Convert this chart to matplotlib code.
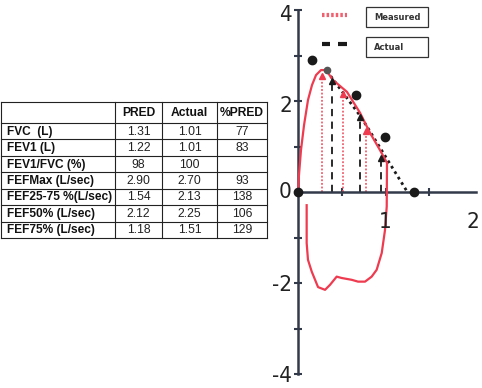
import numpy as np
import matplotlib
matplotlib.use("Agg")
import matplotlib.pyplot as plt

# ── Dados ─────────────────────────────────────────────────────────────────────
linhas = ["FVC  (L)", "FEV1 (L)", "FEV1/FVC (%)", "FEFMax (L/sec)",
          "FEF25-75 %(L/sec)", "FEF50% (L/sec)", "FEF75% (L/sec)"]
cabec = ["PRED", "Actual", "%PRED"]
pred = ["1.31", "1.22", "98", "2.90", "1.54", "2.12", "1.18"]
atual = ["1.01", "1.01", "100", "2.70", "2.13", "2.25", "1.51"]
pct = ["77", "83", "", "93", "138", "106", "129"]

# curva fluxo-volume medida (expiração -> inspiração)
alca_x = [0.0, 0.011, 0.034, 0.069, 0.114, 0.16, 0.206, 0.263, 0.32, 0.40, 0.56,
          0.709, 0.823, 0.937, 1.017, 1.014, 0.994, 0.957, 0.899, 0.842, 0.766,
          0.686, 0.614, 0.499, 0.442, 0.366, 0.309, 0.229, 0.157, 0.114, 0.099, 0.099]
alca_y = [0.0, 0.37, 0.92, 1.47, 2.02, 2.35, 2.57, 2.68, 2.68, 2.46, 2.20,
          1.74, 1.30, 0.92, 0.64, -0.32, -0.84, -1.34, -1.71, -1.86, -1.97,
          -1.97, -1.93, -1.89, -1.86, -2.04, -2.15, -2.09, -1.75, -1.49, -1.12, -0.29]

# pontos medidos (triângulos vermelhos) e reais (triângulos pretos)
med_x = [0.272, 0.514, 0.778]
med_y = [2.56, 2.15, 1.35]
real_x = [0.394, 0.713, 0.954]
real_y = [2.44, 1.65, 0.75]

# valores previstos (círculos pretos)
prev_x = [0.0, 0.165, 0.667, 0.997, 1.326]
prev_y = [0.0, 2.90, 2.13, 1.21, 0.0]
pico = (0.33, 2.68)

# linha pontilhada prevista
prevl_x = [0.33, 0.72, 1.25]
prevl_y = [2.66, 1.65, 0.0]

ytick_lab = [4, 2, 0, -2, -4]
xtick_lab = [1, 2]

VERM, VERM2, PRETO, EIXO = "#ef3b4f", "#f0606e", "#1a1a1a", "#333a4a"

# ── Figura ────────────────────────────────────────────────────────────────────
fig = plt.figure(figsize=(4.82, 3.88), dpi=100)

# tabela (coordenadas em pixels)
tab = fig.add_axes([0, 0, 1, 1])
tab.set_xlim(0, 482); tab.set_ylim(388, 0); tab.axis("off")
cols = [1, 115, 162, 217, 267]
topo, cab_fim, fundo = 102, 123, 238
alt = (fundo - cab_fim) / len(linhas)
ys = [topo, cab_fim] + [cab_fim + alt * (i + 1) for i in range(len(linhas))]
for y in ys:
    tab.plot([cols[0], cols[-1]], [y, y], color="#222", lw=0.8)
for x in cols:
    tab.plot([x, x], [topo, fundo], color="#222", lw=0.8)
fam = ["Liberation Sans", "DejaVu Sans"]
for j, h in enumerate(cabec):
    tab.text((cols[j + 1] + cols[j + 2]) / 2, (topo + cab_fim) / 2 + 0.5, h,
             ha="center", va="center", fontsize=8.7, fontweight="bold", family=fam, color="#111")
for i, nome in enumerate(linhas):
    yc = cab_fim + alt * (i + 0.5) + 0.5
    tab.text(7, yc, nome, ha="left", va="center", fontsize=8.6,
             fontweight="bold", family=fam, color="#111")
    for j, v in enumerate([pred[i], atual[i], pct[i]]):
        tab.text((cols[j + 1] + cols[j + 2]) / 2, yc, v, ha="center", va="center",
                 fontsize=8.7, family=fam, color="#222")

# legenda desenhada
tab.plot([322, 347], [15, 15], color=VERM2, lw=3, ls=(0, (0.6, 0.5)))
tab.plot([322, 330], [44, 44], color=PRETO, lw=3, solid_capstyle="butt")
tab.plot([338, 347], [44, 44], color=PRETO, lw=3, solid_capstyle="butt")
for y0, y1, t in [(7, 27, "Measured"), (37, 57, "Actual")]:
    tab.add_patch(plt.Rectangle((366, y0), 62, y1 - y0, fill=False, ec="#333", lw=0.9))
    tab.text(374, (y0 + y1) / 2, t, ha="left", va="center", fontsize=6,
             fontweight="bold", family=["DejaVu Sans"], color="#333")

# gráfico fluxo-volume
ax = fig.add_axes([298 / 482, 14 / 388, 178 / 482, 364 / 388])
ax.set_xlim(0, 178 / 87.5); ax.set_ylim(-4, 4)
ax.patch.set_alpha(0)
for s in ["top", "right"]:
    ax.spines[s].set_visible(False)
ax.spines["bottom"].set_position(("data", 0))
for s in ["left", "bottom"]:
    ax.spines[s].set_color(EIXO); ax.spines[s].set_linewidth(1.8)
ax.set_yticks(range(-4, 5)); ax.set_xticks([0.5, 1.0, 1.5])
ax.set_yticklabels([]); ax.set_xticklabels([])
ax.tick_params(direction="inout", length=6, width=1.5, color=EIXO)

ax.plot(alca_x, alca_y, color=VERM, lw=1.6, clip_on=False, zorder=3)
for x, y in zip(med_x, med_y):
    ax.plot([x, x], [0, y], color=VERM2, lw=1.3, ls=(0, (1, 1)), zorder=2)
for x, y in zip(real_x, real_y):
    ax.plot([x, x], [0, y], color=PRETO, lw=1.3, ls=(0, (4, 3)), zorder=2)
ax.plot(prevl_x, prevl_y, color=PRETO, lw=2, ls=(0, (1, 1.3)), zorder=2)
ax.plot(med_x, med_y, "^", color=VERM, ms=5, zorder=4)
ax.plot(real_x, real_y, "^", color=PRETO, ms=5, zorder=4)
ax.plot(prev_x, prev_y, "o", color=PRETO, ms=6, clip_on=False, zorder=5)
ax.plot(*pico, "o", color="#555", ms=4.5, zorder=5)

# rótulos dos eixos: fonte estreita
num = dict(family=["DejaVu Sans"], stretch="condensed", fontsize=16, color="#222")
for v in ytick_lab:
    ax.text(-0.07, v - 0.12 if v > 0 else v - 0.05 if v < 0 else v, str(v),
            ha="right", va="center", clip_on=False, **num)
for v in xtick_lab:
    ax.text(v, -0.66, str(v), ha="center", va="center", clip_on=False, **num)

fig.savefig("out.png", dpi=100)
